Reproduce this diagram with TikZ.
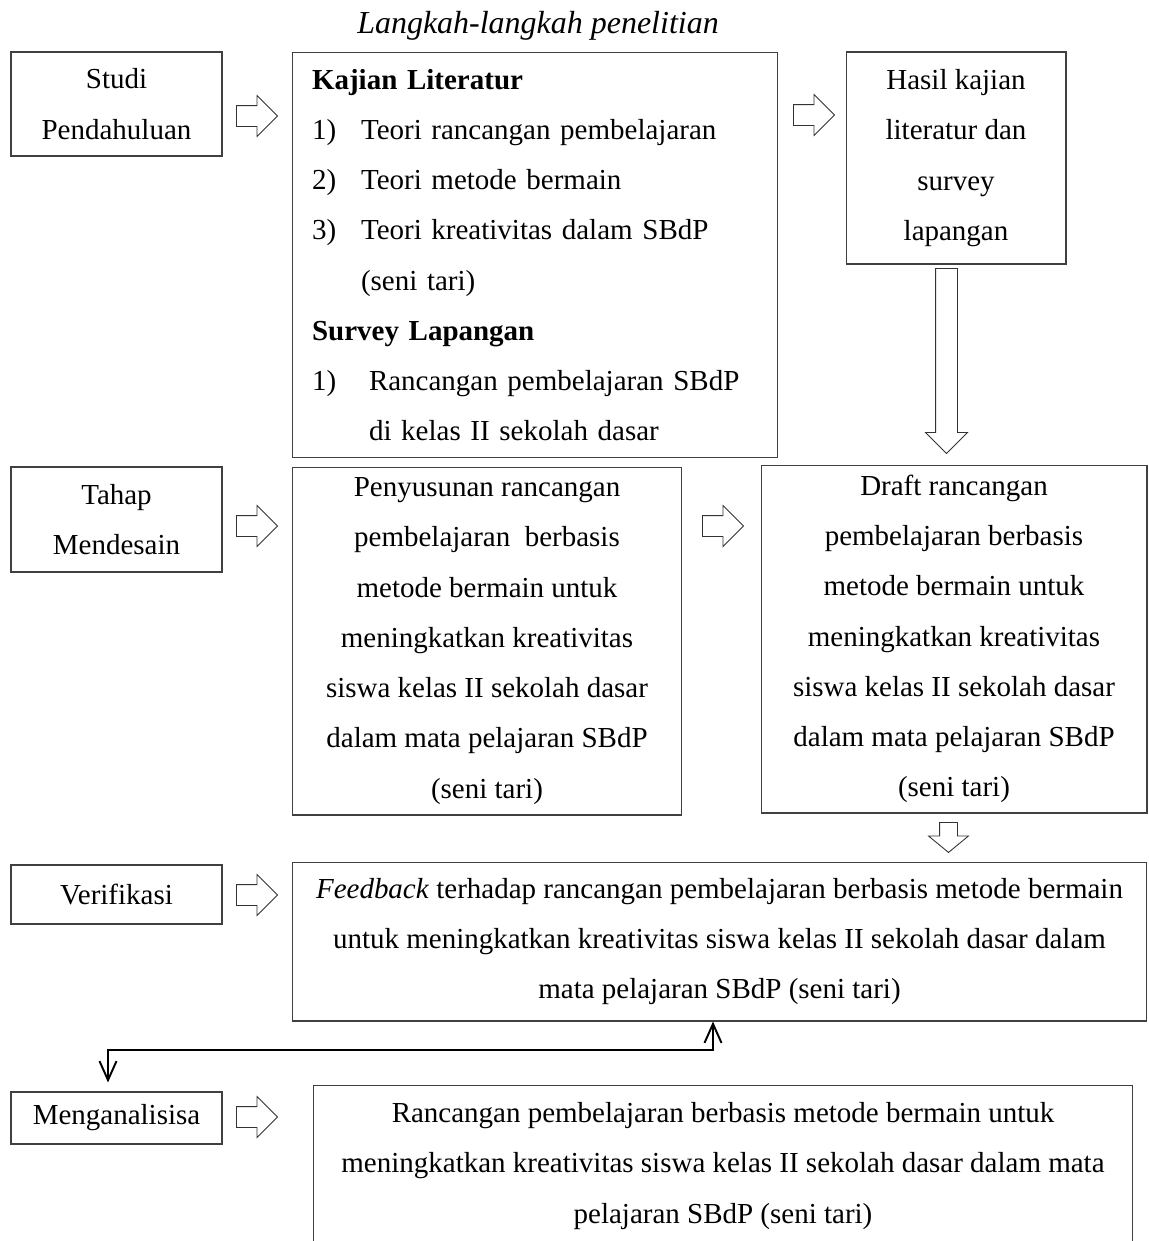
\documentclass[tikz,border=0pt]{standalone}
\usepackage{fontspec}
\setmainfont{Liberation Serif}
\usetikzlibrary{positioning, arrows.meta, shapes.arrows}

\begin{document}
\begin{tikzpicture}[
    x=0.02cm, y=-0.02cm,
    box/.style={draw=black!75, line width=0.6pt, inner sep=0pt, align=center, font=\fontsize{16.5}{28.6}\selectfont},
    blk/.style={single arrow, draw=black!80, line width=0.5pt, inner xsep=0pt, inner ysep=0.2cm, minimum height=0.82cm, single arrow head extend=0.2cm, anchor=tail},
    link/.style={line width=1.1pt, {Straight Barb[length=0.38cm, width=0.34cm]}-{Straight Barb[length=0.38cm, width=0.34cm]}},
]
\useasboundingbox (0,0) rectangle (1149,1241);
\clip (0,0) rectangle (1149,1241);

\node[font=\fontsize{18.2}{20}\selectfont\itshape] (judul) at (538,26) {Langkah-langkah penelitian};

% Stages
\node[box, minimum width=4.22cm, minimum height=2.08cm] (studi) at (116.5,104) {Studi\\Pendahuluan};
\node[box, minimum width=4.22cm, minimum height=2.1cm] (tahap) at (116.5,519.5) {Tahap\\Mendesain};
\node[box, minimum width=4.22cm, minimum height=1.18cm] (verif) at (116.5,894.5) {Verifikasi};
\node[box, minimum width=4.22cm, minimum height=1.04cm] (ana) at (116.5,1118) {Menganalisisa};

% Contents
\node[box, align=left, text width=8.92cm, inner xsep=0.4cm, minimum height=8.12cm] (kajian) at (535,255) {\textbf{Kajian Literatur}\\
\makebox[0.98cm][l]{1)}Teori rancangan pembelajaran\\
\makebox[0.98cm][l]{2)}Teori metode bermain\\
\makebox[0.98cm][l]{3)}Teori kreativitas dalam SBdP\\
\makebox[0.98cm][l]{}(seni tari)\\
\textbf{Survey Lapangan}\\
\makebox[1.14cm][l]{1)}Rancangan pembelajaran SBdP\\
\makebox[1.14cm][l]{}di kelas II sekolah dasar};
\node[box, minimum width=4.4cm, minimum height=4.24cm] (hasil) at (956,158) {Hasil kajian\\literatur dan\\survey\\lapangan};
\node[box, minimum width=7.8cm, minimum height=6.96cm] (susun) at (487,641) {Penyusunan rancangan\\pembelajaran~ berbasis\\metode bermain untuk\\meningkatkan kreativitas\\siswa kelas II sekolah dasar\\dalam mata pelajaran SBdP\\(seni tari)};
\node[box, minimum width=7.72cm, minimum height=6.96cm] (draft) at (954,639) {Draft rancangan\\pembelajaran berbasis\\metode bermain untuk\\meningkatkan kreativitas\\siswa kelas II sekolah dasar\\dalam mata pelajaran SBdP\\(seni tari)};
\node[box, minimum width=17.1cm, minimum height=3.18cm] (fb) at (719.5,941.5) {\textit{Feedback} terhadap rancangan pembelajaran berbasis metode bermain\\untuk meningkatkan kreativitas siswa kelas II sekolah dasar dalam\\mata pelajaran SBdP (seni tari)};
\node[box, minimum width=16.4cm, minimum height=3.24cm] (akhir) at (723,1166) {Rancangan pembelajaran berbasis metode bermain untuk\\meningkatkan kreativitas siswa kelas II sekolah dasar dalam mata\\pelajaran SBdP (seni tari)};

% Block arrows
\node[blk] (a1) at (236,116) {};
\node[blk] (a2) at (793,115) {};
\node[blk, rotate=-90, inner ysep=0.21cm, minimum height=3.7cm] (a3) at (946.5,268) {};
\node[blk] (a4) at (236,526) {};
\node[blk] (a5) at (702,526) {};
\node[blk, rotate=-90, inner ysep=0.17cm, single arrow head extend=0.22cm, single arrow tip angle=101, minimum height=0.6cm] (a6) at (948.5,822) {};
\node[blk] (a7) at (236,895) {};
\node[blk] (a8) at (236,1117) {};

% Feedback loop
\coordinate (turn) at (713,1050);
\draw[link, shorten >=0.18cm] (turn |- fb.south) -- (turn) -| ([xshift=-0.17cm]ana.north);
\end{tikzpicture}
\end{document}
